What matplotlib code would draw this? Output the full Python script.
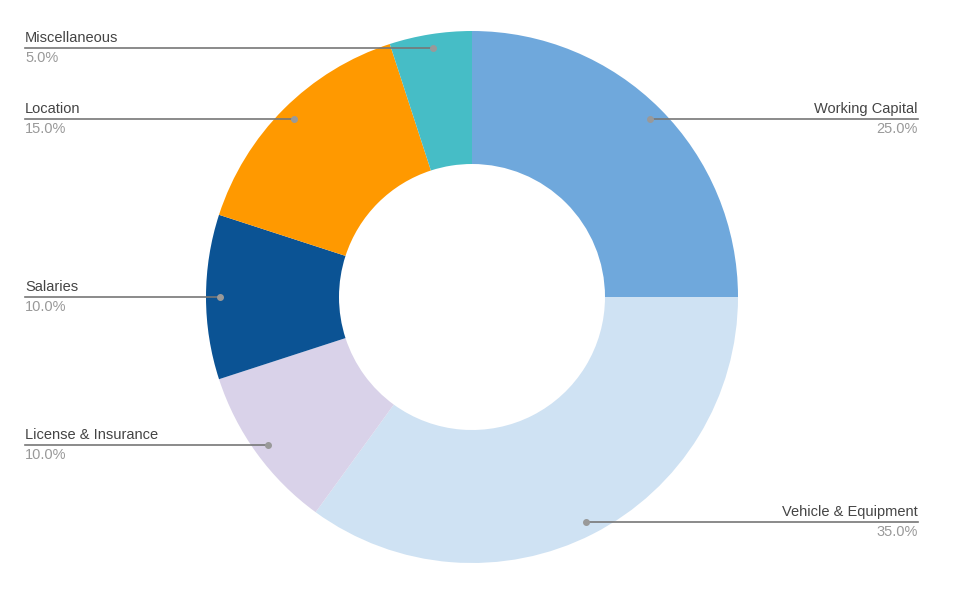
import numpy as np
import matplotlib
matplotlib.use("Agg")
import matplotlib.pyplot as plt

labels = ["Working Capital", "Vehicle & Equipment", "License & Insurance",
          "Salaries", "Location", "Miscellaneous"]
values = [25.0, 35.0, 10.0, 10.0, 15.0, 5.0]
colors = ["#6fa8dc", "#cfe2f3", "#d9d2e9", "#0b5394", "#ff9900", "#46bdc6"]

W, H = 954, 591
cx, cy, R = 472, H - 297, 266

plt.rcParams["font.family"] = ["Liberation Sans", "DejaVu Sans"]
fig = plt.figure(figsize=(W / 100, H / 100), dpi=100)
ax = fig.add_axes([0, 0, 1, 1])
ax.set_xlim(0, W)
ax.set_ylim(0, H)
ax.set_aspect("equal")
ax.axis("off")

wedges, _ = ax.pie(values, colors=colors, startangle=90, counterclock=False,
                   center=(cx, cy), radius=R,
                   wedgeprops=dict(width=R * 0.5, linewidth=0))
ax.set_xlim(0, W)
ax.set_ylim(0, H)

total = sum(values)
cum = 0
for lab, v in zip(labels, values):
    mid = 90 - (cum + v / 2) / total * 360
    cum += v
    a = np.radians(mid)
    px = cx + 0.948 * R * np.cos(a)
    py = cy + 0.948 * R * np.sin(a)
    right = np.cos(a) > 0.01
    xe = 918 if right else 25
    ax.plot([px, xe], [py, py], color="#777777", lw=1.2)
    ax.plot(px, py, "o", color="#999999", ms=4)
    ha = "right" if right else "left"
    ax.text(xe, py + 3, lab, ha=ha, va="bottom", fontsize=10.5, color="#444444")
    ax.text(xe, py - 3, "{:.1f}%".format(v), ha=ha, va="top", fontsize=10.5, color="#999999")

fig.savefig("out.png", dpi=100)
